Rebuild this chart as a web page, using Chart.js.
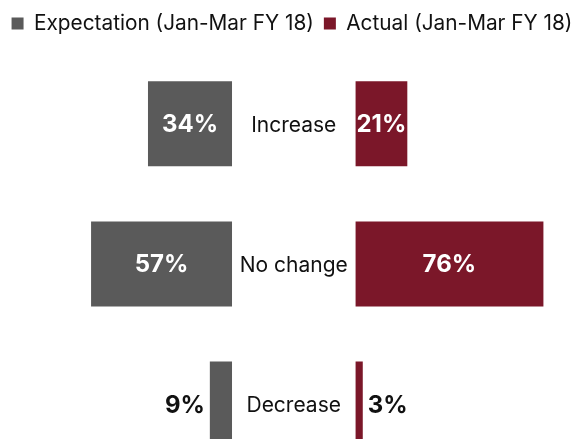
<!DOCTYPE html>
<html><head><meta charset="utf-8">
<script src="https://cdn.jsdelivr.net/npm/chart.js@4/dist/chart.umd.min.js"></script>
<style>
html,body{margin:0;padding:0;overflow:hidden;background:#fff;width:584px;height:439px;}
#wrap{width:584px;height:439px;overflow:hidden;position:relative;}
canvas{display:block;}
</style></head><body>
<div id="wrap"><canvas id="c" width="584" height="480" style="width:584px;height:480px"></canvas></div>
<script>
const categories = ['Increase', 'No change', 'Decrease'];
const seriesNames = ['Expectation (Jan-Mar FY 18)', 'Actual (Jan-Mar FY 18)'];
const expectation = [34, 57, 9];
const actual = [21, 76, 3];

const FONT = 'Inter, "Liberation Sans", sans-serif';
const GRAY = '#5a5a5a';
const RED = '#7b1729';

const legendSpacer = {
  id: 'legendSpacer',
  beforeInit(chart) {
    const orig = chart.legend.fit;
    chart.legend.fit = function () { orig.call(this); this.height += 10; };
  }
};

const labelsPlugin = {
  id: 'labelsPlugin',
  afterDatasetsDraw(chart) {
    const ctx = chart.ctx;
    ctx.save();
    ctx.textBaseline = 'middle';
    chart.data.datasets.forEach((ds, di) => {
      const meta = chart.getDatasetMeta(di);
      meta.data.forEach((bar, i) => {
        const p = bar.getProps(['x', 'y', 'base'], true);
        const txt = ds.data[i] + '%';
        ctx.font = 'bold 24px ' + FONT;
        const tw = ctx.measureText(txt).width;
        const bw = Math.abs(p.x - p.base);
        const dir = Math.sign(p.x - p.base) || 1;
        if (bw >= tw * 0.85) {
          ctx.fillStyle = '#ffffff';
          ctx.textAlign = 'center';
          ctx.fillText(txt, (p.x + p.base) / 2, p.y + 1);
        } else {
          ctx.fillStyle = '#111111';
          ctx.textAlign = dir < 0 ? 'right' : 'left';
          ctx.fillText(txt, p.x + dir * 5, p.y + 2);
        }
      });
    });
    const mid = chart.scales.xM;
    const cx = mid.left + mid.width / 2;
    ctx.font = '21px ' + FONT;
    ctx.fillStyle = '#111111';
    ctx.textAlign = 'center';
    categories.forEach((c, i) => {
      ctx.fillText(c, cx, chart.scales.y.getPixelForValue(i) + 2);
    });
    ctx.restore();
  }
};

new Chart(document.getElementById('c'), {
  type: 'bar',
  data: {
    labels: categories,
    datasets: [
      { label: seriesNames[0], data: expectation, xAxisID: 'xL', yAxisID: 'y',
        backgroundColor: GRAY, borderWidth: 0, grouped: false,
        barPercentage: 0.607, categoryPercentage: 1 },
      { label: seriesNames[1], data: actual, xAxisID: 'xR', yAxisID: 'y',
        backgroundColor: RED, borderWidth: 0, grouped: false,
        barPercentage: 0.607, categoryPercentage: 1 }
    ]
  },
  options: {
    indexAxis: 'y',
    responsive: false,
    animation: false,
    events: [],
    layout: { padding: { top: 3, bottom: 6, left: 0, right: 0 } },
    scales: {
      xL: { type: 'linear', position: 'bottom', stack: 'h', stackWeight: 93.8,
            min: 0, max: 93.8, reverse: true, display: false },
      xM: { type: 'linear', position: 'bottom', stack: 'h', stackWeight: 49.8,
            min: 0, max: 49.8, display: false },
      xR: { type: 'linear', position: 'bottom', stack: 'h', stackWeight: 92.4,
            min: 0, max: 92.4, display: false },
      y: { type: 'category', display: false, offset: true }
    },
    plugins: {
      tooltip: { enabled: false },
      legend: {
        display: true,
        position: 'top',
        labels: {
          boxWidth: 12, boxHeight: 12, padding: 10,
          color: '#111111',
          font: { family: FONT, size: 20.8 }
        }
      }
    }
  },
  plugins: [legendSpacer, labelsPlugin]
});
</script>
</body></html>
